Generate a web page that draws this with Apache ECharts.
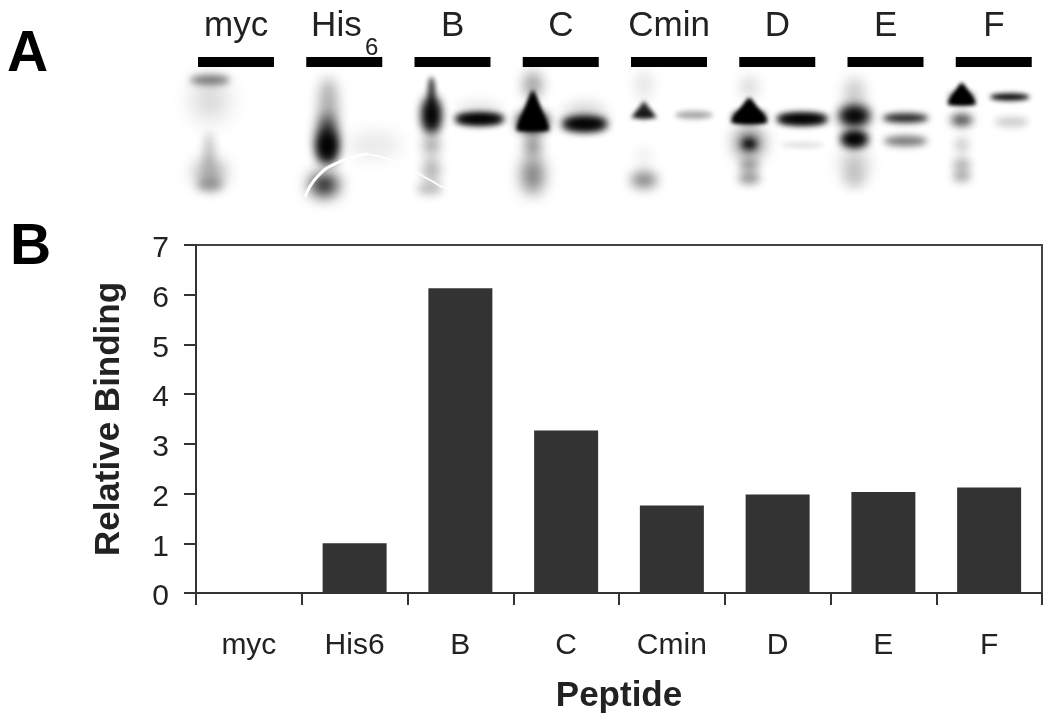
<!DOCTYPE html>
<html><head><meta charset="utf-8">
<style>html,body{margin:0;padding:0;background:#fff}#c{width:1050px;height:721px;filter:blur(0.5px)}</style>
<script src="https://cdn.jsdelivr.net/npm/echarts@6/dist/echarts.min.js"></script>
</head><body><div id="c"></div>
<script>
// Panel B: bar chart
const peptides = ['myc','His6','B','C','Cmin','D','E','F'];
const relativeBinding = [null,1.0,6.13,3.27,1.76,1.98,2.03,2.12];
const yTicks = [0,1,2,3,4,5,6,7];
// Panel A: gel lanes. Each band: [offset from lane centre, migration, width, height, density]
const gelLabels = ['myc','{h|His}','B','C','Cmin','D','E','F'];
const gelMyc  = [[-26,23,40,10,.5],[-26,43,34,40,.18],[-27,93,12,34,.2],[-26,116,28,24,.45],[-26,128,26,12,.32]];
const gelHis  = [[-16,48,18,54,.34],[-17,80,18,44,.85],[-17,90,16,30,1],[-17,90,16,30,1],[-20,128,28,22,.95],[30,88,54,26,.09]];
const gelB    = [[-21,35,8,30,.7],[-21,58,15,34,1],[-21,58,15,34,1],[27,62,48,10,1],[27,62,48,10,1],[27,55,44,20,.12],[-21,88,16,18,.38],[-21,113,16,26,.32],[-23,132,26,12,.25]];
const gelC    = [[-28,28,18,26,.4],[-28,65,28,16,1],[-28,65,28,16,1],[24,67,44,12,1],[24,67,44,12,1],[24,58,42,22,.2],[-28,88,16,22,.45],[-28,118,22,38,.52]];
const gelCmin = [[-25,28,18,30,.1],[-25,58,16,8,.5],[25,58,38,8,.34],[-25,123,26,16,.5],[-25,100,16,22,.06]];
const gelD    = [[-28,30,18,22,.15],[-28,60,32,10,1],[-28,60,32,10,1],[-28,86,24,24,.8],[-28,87,14,10,1],[25,62,50,10,1],[25,62,50,10,1],[25,88,44,6,.12],[-28,108,20,12,.38],[-28,121,22,12,.42]];
const gelE    = [[-31,38,20,34,.22],[-31,59,28,16,1],[-31,59,28,16,1],[-31,82,25,14,1],[-31,82,25,14,1],[-31,108,24,26,.3],[-31,123,22,16,.16],[20,61,46,9,.9],[20,84,44,10,.55]];
const gelF    = [[-32,41,24,11,1],[-32,63,22,12,.7],[-32,88,14,16,.2],[-32,107,18,12,.3],[-32,119,18,12,.34],[16,40,40,7,1],[18,65,34,10,.2]];
const gelLanes = [gelMyc,gelHis,gelB,gelC,gelCmin,gelD,gelE,gelF];
// Tapered band heads: [lane, offset, apex, base width, base, density]
const gelApex = [[3,-28,33,32,73,1],[3,-28,33,32,73,1],[4,-25,44,26,61,.85],[5,-28,41,36,65,1],[5,-28,41,36,65,1],[7,-32,26,28,47,1],[7,-32,26,28,47,1]];
const sampleBarLanes = [0,1,2,3,4,5,6,7];
const crackLeft = [[123,140],[135,120],[155,106],[185,97]];
const crackRight = [[185,97],[218,106],[248,123],[268,131],[291,123],[315,106]];
const laneStep = 108.25;

const bandData = [];
gelLanes.forEach((bands,i)=>bands.forEach(b=>bandData.push([i,b[0],b[1],b[2],b[3],b[4]])));

function laneX(i,off){return 54+i*laneStep+off;}
const FAR=3000; // shape sits off-canvas so that only its soft shadow shows
const tickFont='"Liberation Sans",Arial,sans-serif';
const axisLine={lineStyle:{color:'#333',width:2}};
const option={
  animation:false,
  backgroundColor:'#fff',
  textStyle:{fontFamily:tickFont},
  graphic:[
    {type:'text',left:7,top:27,style:{text:'A',font:'bold 57px '+tickFont,fill:'#000'}},
    {type:'text',left:10,top:220,style:{text:'B',font:'bold 57px '+tickFont,fill:'#000'}},
    {type:'text',left:365,top:36,style:{text:'6',font:'24px '+tickFont,fill:'#222'}}
  ],
  grid:[
    {left:196,width:846,top:245,height:348,show:true,borderColor:'#444',borderWidth:2,backgroundColor:'transparent'},
    {left:182,width:866,top:57,height:150}
  ],
  xAxis:[
    {type:'category',gridIndex:0,data:peptides,axisTick:{show:true,length:12,alignWithLabel:false,lineStyle:{color:'#333',width:2}},axisLine,
     axisLabel:{color:'#222',fontSize:30,margin:38,fontFamily:tickFont,interval:0},
     name:'Peptide',nameLocation:'middle',nameGap:86,nameTextStyle:{color:'#222',fontSize:35,fontWeight:'bold',fontFamily:tickFont},splitLine:{show:false}},
    {type:'category',gridIndex:1,position:'top',data:gelLabels,axisLine:{show:false},axisTick:{show:false},
     axisLabel:{color:'#222',fontSize:35,margin:13,interval:0,fontFamily:tickFont,rich:{h:{fontSize:35,color:'#222',padding:[0,16,0,0],fontFamily:tickFont}}}},
    {type:'value',gridIndex:1,min:0,max:866,show:false}
  ],
  yAxis:[
    {type:'value',gridIndex:0,min:0,max:7,interval:1,axisLine:{show:true,lineStyle:{color:'#333',width:2}},axisTick:{show:true,length:12,lineStyle:{color:'#333',width:2}},
     splitLine:{show:false},axisLabel:{color:'#222',fontSize:30,margin:27,fontFamily:tickFont,formatter:v=>'{d|'+v+'}',rich:{d:{fontSize:30,color:'#222',fontFamily:tickFont,padding:[8,0,0,0]}}},
     name:'Relative Binding',nameLocation:'middle',nameGap:69,nameTextStyle:{color:'#222',fontSize:35,fontWeight:'bold',fontFamily:tickFont}},
    {type:'value',gridIndex:1,min:0,max:150,inverse:true,show:false}
  ],
  series:[
    {type:'bar',name:'Relative Binding',xAxisIndex:0,yAxisIndex:0,data:relativeBinding,barWidth:64,itemStyle:{color:'#333'},silent:true},
    {type:'custom',xAxisIndex:2,yAxisIndex:1,data:sampleBarLanes.map(i=>[i]),silent:true,z:4,
     renderItem(p,api){const i=api.value(0);const a=api.coord([laneX(i,-38),0]),s=api.size([76,10]);
       return{type:'rect',shape:{x:a[0],y:a[1],width:s[0],height:s[1]},style:{fill:'#000'}};}},
    {type:'custom',xAxisIndex:2,yAxisIndex:1,data:bandData,silent:true,z:2,clip:false,
     renderItem(p,api){const c=api.coord([laneX(api.value(0),api.value(1)),api.value(2)]);const s=api.size([api.value(3),api.value(4)]);const d=api.value(5);
       const col='rgba(0,0,0,'+d+')';const blur=Math.max(5,Math.min(s[0],s[1])*0.7);
       return{type:'ellipse',shape:{cx:c[0]-FAR,cy:c[1],rx:s[0]/2,ry:s[1]/2},style:{fill:'#000',shadowBlur:blur,shadowColor:col,shadowOffsetX:FAR}};}},
    {type:'custom',xAxisIndex:2,yAxisIndex:1,data:gelApex,silent:true,z:3,clip:false,
     renderItem(p,api){const i=api.value(0),o=api.value(1),top=api.value(2),w=api.value(3),bot=api.value(4),d=api.value(5);
       const a=api.coord([laneX(i,o),top]),l=api.coord([laneX(i,o-w/2),bot]),r=api.coord([laneX(i,o+w/2),bot]);const col='rgba(0,0,0,'+d+')';
       const sh=q=>[q[0]-FAR,q[1]];
       return{type:'polygon',shape:{points:[sh(a),sh(l),sh(r)]},style:{fill:'#000',shadowBlur:4,shadowColor:col,shadowOffsetX:FAR}};}},
    {type:'line',xAxisIndex:2,yAxisIndex:1,data:crackLeft,smooth:true,symbol:'none',z:5,silent:true,lineStyle:{color:'#fff',width:3}},
    {type:'line',xAxisIndex:2,yAxisIndex:1,data:crackRight,smooth:true,symbol:'none',z:5,silent:true,lineStyle:{color:'#fff',width:1.5}}
  ]
};
echarts.init(document.getElementById('c'),null,{renderer:'canvas'}).setOption(option);
</script></body></html>
